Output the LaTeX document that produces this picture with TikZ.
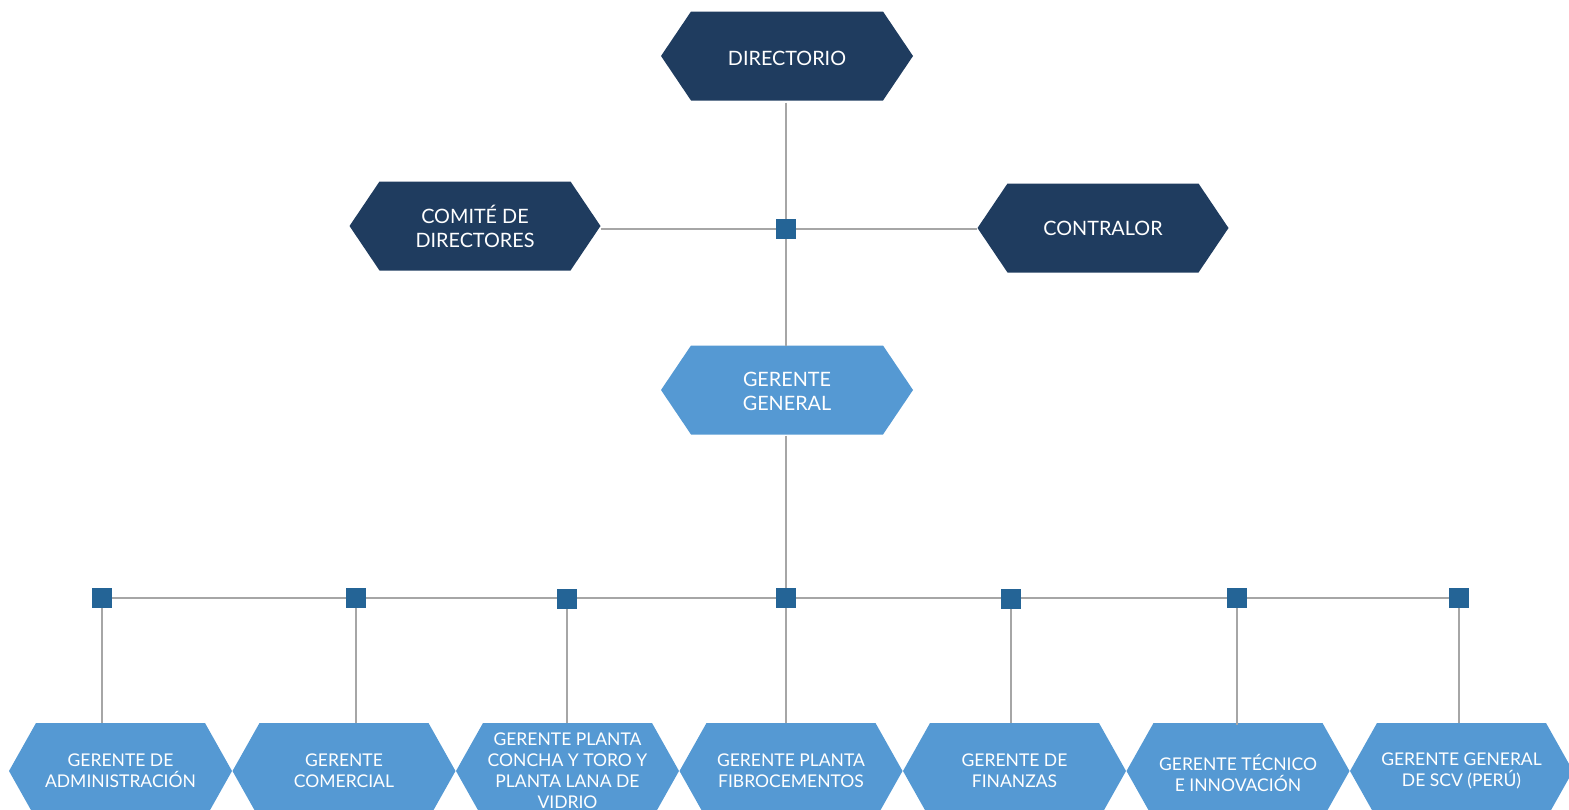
\documentclass[tikz,border=0pt]{standalone}
\usepackage{fontspec}
\setmainfont{Lato}
\definecolor{navy}{HTML}{1F3C5F}
\definecolor{lightb}{HTML}{5599D3}
\definecolor{sqc}{HTML}{246496}
\definecolor{linec}{HTML}{A6A6A6}
\tikzset{
  hextext/.style={text=white, align=center, inner sep=0pt},
  toptext/.style={font=\fontsize{19.8}{24}\selectfont},
  bottext/.style={font=\fontsize{17.5}{21}\selectfont},
  conn/.style={draw=linec, line width=1.6pt},
  sq/.style={fill=sqc, minimum size=20pt, inner sep=0pt, outer sep=0pt},
}
% #1 name, #2 x, #3 y, #4 half top width, #5 half height, #6 tip, #7 fill, #8 style, #9 text
\newcommand{\hexbox}[9]{%
  \fill[#7] ({#2-#4},{#3-#5}) -- ({#2+#4},{#3-#5}) -- ({#2+#4+#6},{#3}) -- ({#2+#4},{#3+#5}) -- ({#2-#4},{#3+#5}) -- ({#2-#4-#6},{#3}) -- cycle;
  \node[hextext,#8,minimum width={2*#4+2*#6},minimum height={2*#5}] (#1) at (#2,#3) {#9};
}
\begin{document}
\begin{tikzpicture}[x=1pt,y=-1pt]
\path[use as bounding box, clip] (0,0) rectangle (1569,809);
\coordinate (s0) at (786,229);
% hexagons
\hexbox{dir}{787}{56}{96}{44.5}{30}{navy}{toptext,yshift=-2pt}{DIRECTORIO}
\hexbox{com}{475}{226}{95.5}{44.5}{30}{navy}{toptext}{COMITÉ DE\\DIRECTORES}
\hexbox{con}{1103}{228}{95.5}{44.5}{30}{navy}{toptext}{CONTRALOR}
\hexbox{gg}{787}{390}{96}{44.5}{30}{lightb}{toptext,yshift=-1pt}{GERENTE\\GENERAL}
\hexbox{b1}{120.5}{771}{84.5}{48}{27}{lightb}{bottext}{GERENTE DE\\ADMINISTRACIÓN}
\hexbox{b2}{344}{771}{84.5}{48}{27}{lightb}{bottext}{GERENTE\\COMERCIAL}
\hexbox{b3}{567.5}{771}{84.5}{48}{27}{lightb}{bottext}{GERENTE PLANTA\\CONCHA Y TORO Y\\PLANTA LANA DE\\VIDRIO}
\hexbox{b4}{791}{771}{84.5}{48}{27}{lightb}{bottext}{GERENTE PLANTA\\FIBROCEMENTOS}
\hexbox{b5}{1014.5}{771}{84.5}{48}{27}{lightb}{bottext}{GERENTE DE\\FINANZAS}
\hexbox{b6}{1238}{771}{84.5}{48}{27}{lightb}{bottext,yshift=-2pt}{GERENTE TÉCNICO\\E INNOVACIÓN}
\hexbox{b7}{1461.5}{771}{84.5}{48}{27}{lightb}{bottext}{GERENTE GENERAL\\DE SCV (PERÚ)}
% bottom square positions
\coordinate (p1) at (102,598);
\coordinate (p2) at (356,598);
\coordinate (p3) at (567,599);
\coordinate (p4) at (786,598);
\coordinate (p5) at (1011,599);
\coordinate (p6) at (1237,598);
\coordinate (p7) at (1459,598);
% connectors
\draw[conn] (dir.south -| s0) -- (gg.north -| s0);
\draw[conn] (com.east |- s0) -- (con.west |- s0);
\draw[conn] (gg.south -| p4) -- (p4);
\draw[conn] (p1) -- (p7);
\foreach \i in {1,...,7}{\draw[conn] (p\i) -- (b\i.north -| p\i);}
% junction squares
\node[sq] (j0) at (s0) {};
\foreach \i in {1,...,7}{\node[sq] (s\i) at (p\i) {};}
\end{tikzpicture}
\end{document}
